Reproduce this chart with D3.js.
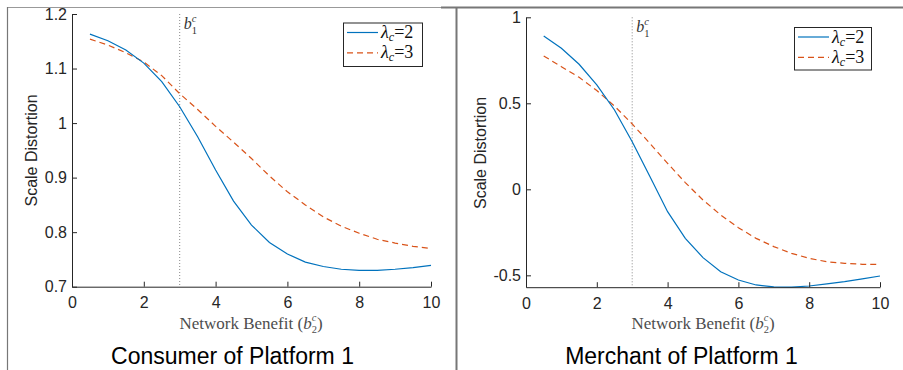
<!DOCTYPE html>
<html><head><meta charset="utf-8">
<script src="https://cdn.jsdelivr.net/npm/d3@7"></script>
<style>html,body{margin:0;padding:0;background:#fff;}svg{display:block;}</style>
</head><body>
<script>
// ---- data ----
const xValues = [0.5,1,1.5,2,2.5,3,3.5,4,4.5,5,5.5,6,6.5,7,7.5,8,8.5,9,9.5,10];
const consumerL2 = [1.163,1.151,1.134,1.110,1.076,1.030,0.975,0.914,0.857,0.813,0.781,0.760,0.745,0.737,0.732,0.730,0.730,0.732,0.735,0.739];
const consumerL3 = [1.154,1.143,1.129,1.112,1.087,1.054,1.025,0.994,0.965,0.935,0.903,0.874,0.850,0.828,0.811,0.798,0.787,0.780,0.774,0.770];
const merchantL2 = [0.891,0.820,0.727,0.607,0.461,0.277,0.074,-0.130,-0.285,-0.397,-0.479,-0.527,-0.556,-0.567,-0.568,-0.562,-0.550,-0.537,-0.521,-0.504];
const merchantL3 = [0.775,0.713,0.651,0.574,0.484,0.380,0.267,0.151,0.039,-0.062,-0.149,-0.223,-0.285,-0.333,-0.372,-0.401,-0.421,-0.430,-0.436,-0.437];
const xTicks = [0,2,4,6,8,10];
const consumerYTicks = [0.7,0.8,0.9,1.0,1.1,1.2];
const merchantYTicks = [-0.5,0,0.5,1];
const consumerYDomain = [0.7,1.2];
const merchantYDomain = [-0.569,1];
const seriesLabels = ["2","3"];
const b1c = 3;
const panelTitles = ["Consumer of Platform 1","Merchant of Platform 1"];
const yLabel = "Scale Distortion";

const W = 903, H = 370;
const svg = d3.select("body").append("svg").attr("width",W).attr("height",H);
const SANS = "'Liberation Sans', Arial, sans-serif";
const SERIF = "'Liberation Serif', 'Times New Roman', serif";
const AX = "#262626";

// frame lines
svg.append("line").attr("x1",7).attr("x2",441).attr("y1",7.5).attr("y2",7.5).attr("stroke","#999").attr("stroke-width",1);
svg.append("line").attr("x1",441).attr("x2",903).attr("y1",7.5).attr("y2",7.5).attr("stroke","#777").attr("stroke-width",2);
svg.append("line").attr("x1",7.5).attr("x2",7.5).attr("y1",7).attr("y2",370).attr("stroke","#777").attr("stroke-width",1.2);
svg.append("line").attr("x1",456.5).attr("x2",456.5).attr("y1",7).attr("y2",370).attr("stroke","#777").attr("stroke-width",2);

function measure(str, size, italic, family) {
  const t = svg.append("text").attr("font-family", family).attr("font-size", size)
    .attr("font-style", italic ? "italic" : "normal").text(str);
  const w = t.node().getComputedTextLength();
  t.remove();
  return w;
}

// one text element built from tspans; pieces with stack:true are drawn under the previous script
function rich(parent, pieces, family, color) {
  const t = parent.append("text").attr("font-family", family).attr("fill", color);
  let width = 0, curDy = 0, lastW = 0;
  pieces.forEach(p => {
    const w = measure(p.t, p.size, p.italic, family);
    const target = p.dy || 0;
    const s = t.append("tspan").attr("font-size", p.size)
      .attr("font-style", p.italic ? "italic" : "normal")
      .attr("dy", target - curDy).text(p.t);
    curDy = target;
    if (p.stack) {
      s.attr("dx", -lastW);
      width += Math.max(0, w - lastW);
      lastW = Math.max(w, lastW);
    } else {
      width += w; lastW = w;
    }
  });
  return {t, width};
}

const panels = [
  {x0:72, x1:431, y0:286.7, y1:14, yDomain:consumerYDomain, yTicks:consumerYTicks, s2:consumerL2, s3:consumerL3,
   title:panelTitles[0], titleX:232.5, ylabX:37, ylabY:150.5, xlabX:251, legend:{x:343, y:22.5, w:79, h:43.5}},
  {x0:526, x1:880, y0:287.2, y1:17.3, yDomain:merchantYDomain, yTicks:merchantYTicks, s2:merchantL2, s3:merchantL3,
   title:panelTitles[1], titleX:681.5, ylabX:486, ylabY:153, xlabX:703, legend:{x:794, y:27, w:77, h:42.5}}
];

const fmt = v => (Math.abs(v - Math.round(v)) < 1e-9) ? String(Math.round(v)) : String(v);

panels.forEach(P => {
  const x = d3.scaleLinear().domain([0,10]).range([P.x0, P.x1]);
  const y = d3.scaleLinear().domain(P.yDomain).range([P.y0, P.y1]);
  const g = svg.append("g");

  // dotted b1c line
  g.append("line").attr("x1", x(b1c)).attr("x2", x(b1c)).attr("y1", y(P.yDomain[1])).attr("y2", y(P.yDomain[0]))
    .attr("stroke","#888").attr("stroke-width",1).attr("stroke-dasharray","1,2");

  // lines
  const line = d3.line().x((d,i)=>x(xValues[i])).y(d=>y(d));
  g.append("path").datum(P.s3).attr("d", line).attr("fill","none").attr("stroke","#D95319").attr("stroke-width",1.2).attr("stroke-dasharray","6,4");
  g.append("path").datum(P.s2).attr("d", line).attr("fill","none").attr("stroke","#0072BD").attr("stroke-width",1.2);

  // axes
  const xa = g.append("g").attr("transform",`translate(0,${P.y0})`)
    .call(d3.axisBottom(x).tickValues(xTicks).tickFormat(fmt).tickSizeInner(-5).tickSizeOuter(0).tickPadding(10));
  const ya = g.append("g").attr("transform",`translate(${P.x0},0)`)
    .call(d3.axisLeft(y).tickValues(P.yTicks).tickFormat(fmt).tickSizeInner(-5).tickSizeOuter(0).tickPadding(5));
  [xa, ya].forEach(a => {
    a.select(".domain").attr("stroke", AX);
    a.selectAll(".tick line").attr("stroke", AX);
    a.selectAll("text").attr("font-family", SANS).attr("font-size", 16).attr("fill", AX);
  });

  // y label
  g.append("text").attr("transform",`translate(${P.ylabX},${P.ylabY}) rotate(-90)`)
    .attr("text-anchor","middle").attr("font-family",SANS).attr("font-size",16).attr("fill",AX).text(yLabel);

  // x label
  const xl = rich(g, [
    {t:"Network Benefit (", size:17},
    {t:"b", size:17, italic:true},
    {t:"c", size:10.5, italic:true, dy:-7.5},
    {t:"2", size:10.5, dy:4.5, stack:true},
    {t:")", size:17}
  ], SERIF, "#4d4d4d");
  xl.t.attr("x", P.xlabX - xl.width/2).attr("y", 328.5);

  // b1c label
  const bl = rich(g, [
    {t:"b", size:16, italic:true},
    {t:"c", size:10.5, italic:true, dy:-7.5},
    {t:"1", size:10.5, dy:4.5, stack:true}
  ], SERIF, "#333");
  bl.t.attr("x", x(b1c)+4).attr("y", y(P.yDomain[1]) + 15);

  // legend
  const L = P.legend;
  const lg = g.append("g");
  lg.append("rect").attr("x",L.x+0.5).attr("y",L.y+0.5).attr("width",L.w).attr("height",L.h)
    .attr("fill","#fff").attr("stroke",AX).attr("stroke-width",1);
  const colors = ["#0072BD","#D95319"], dashes = [null,"6,4"];
  seriesLabels.forEach((lab,i) => {
    const cy = L.y + 10 + i*20.3;
    lg.append("line").attr("x1",L.x+4).attr("x2",L.x+35).attr("y1",cy).attr("y2",cy)
      .attr("stroke",colors[i]).attr("stroke-width",1.2).attr("stroke-dasharray",dashes[i]);
    const t = rich(lg, [
      {t:"λ", size:18, italic:true},
      {t:"c", size:12, italic:true, dy:3},
      {t:"=" + lab, size:18, dy:0}
    ], SERIF, "#111");
    t.t.attr("x", L.x+38).attr("y", cy+5.5);
  });

  // title
  g.append("text").attr("x",P.titleX).attr("y",364).attr("text-anchor","middle")
    .attr("font-family",SANS).attr("font-size",23).attr("fill","#000").text(P.title);
});
</script>
</body></html>
